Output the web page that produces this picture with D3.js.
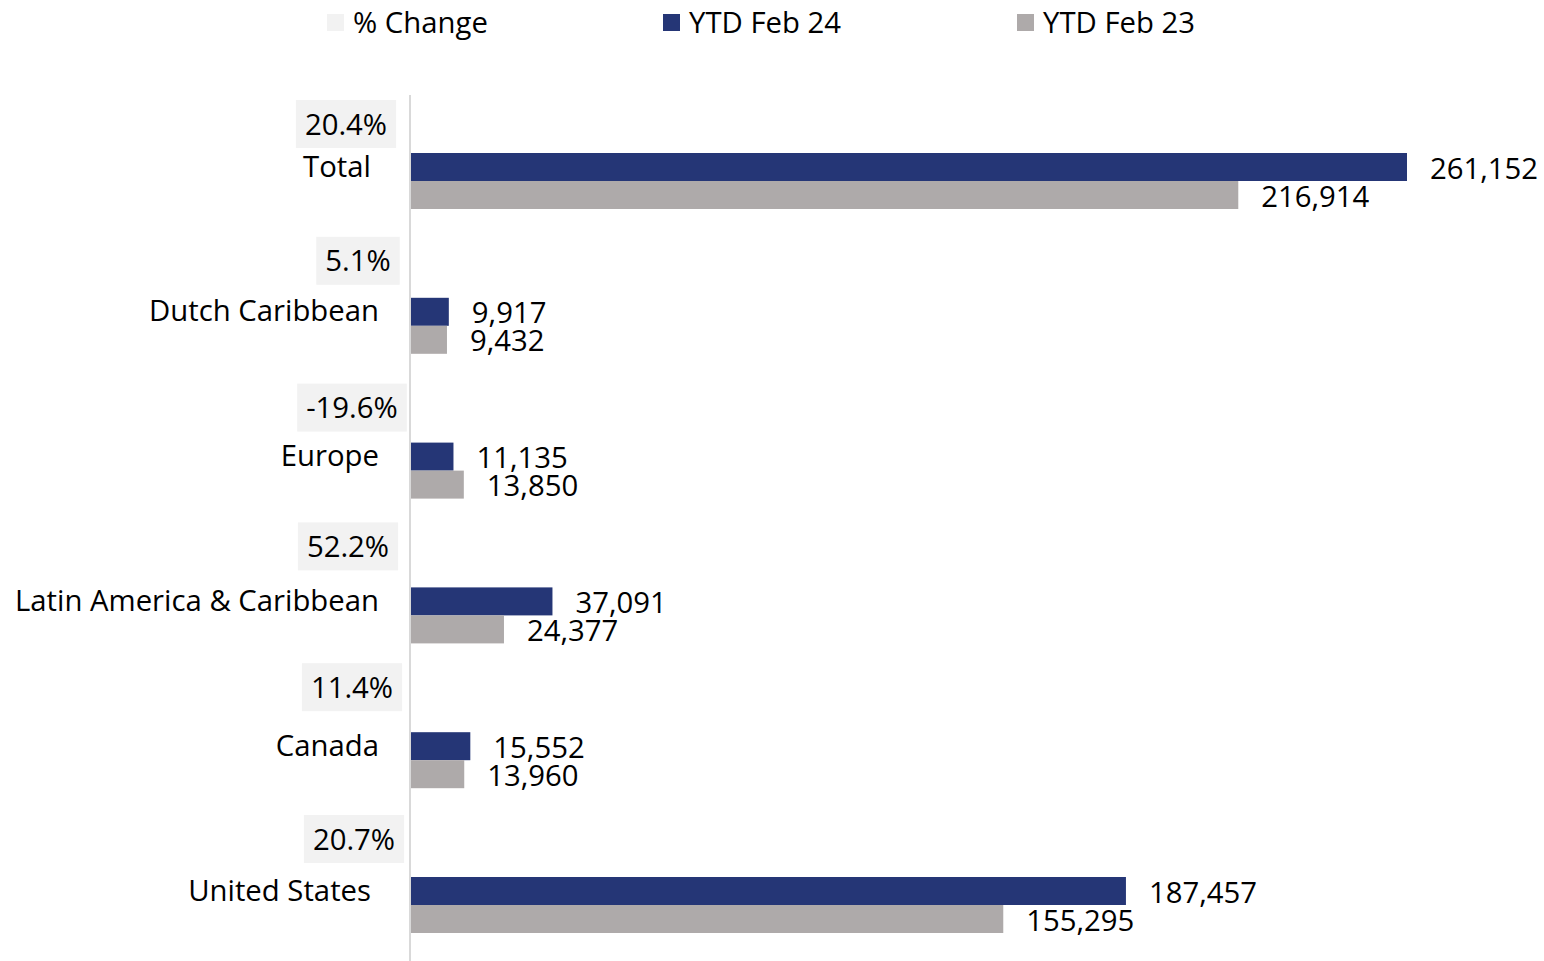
<!DOCTYPE html>
<html><head><meta charset="utf-8">
<script src="https://cdn.jsdelivr.net/npm/d3@7"></script>
<style>body{margin:0;background:#fff}svg{display:block;font-family:"Open Sans",sans-serif}</style>
</head><body>
<svg id="c" width="1544" height="961"></svg>
<script>
const categories = ["Total","Dutch Caribbean","Europe","Latin America & Caribbean","Canada","United States"];
const ytdFeb24 = [261152, 9917, 11135, 37091, 15552, 187457];
const ytdFeb23 = [216914, 9432, 13850, 24377, 13960, 155295];
const pctChange = ["20.4%","5.1%","-19.6%","52.2%","11.4%","20.7%"];
const seriesNames = ["% Change","YTD Feb 24","YTD Feb 23"];
const colors = ["#F2F2F2","#253676","#AEAAAA"];

// label layout tweaks (not data)
const boxDy = [-57, -65, -63, -69, -73, -66];
const boxCx = [346, 358, 352, 348, 352, 354];
const labelRight = [371, 379, 379, 379, 379, 371];

const svg = d3.select("#c");
const fs = 29.3;
const x = d3.scaleLinear().domain([0, 261152]).range([411, 1407]);
const y = d3.scaleBand().domain(categories).range([108.6, 977.4]).paddingInner(0).paddingOuter(0);
const bh = 28;

svg.append("line").attr("x1",410).attr("x2",410).attr("y1",95).attr("y2",961)
  .attr("stroke","#D9D9D9").attr("stroke-width",2);

categories.forEach((c,i)=>{
  const cy = y(c) + y.bandwidth()/2;
  svg.append("rect").attr("x",x(0)).attr("y",cy-bh).attr("width",x(ytdFeb24[i])-x(0)).attr("height",bh).attr("fill",colors[1]);
  svg.append("rect").attr("x",x(0)).attr("y",cy).attr("width",x(ytdFeb23[i])-x(0)).attr("height",bh).attr("fill",colors[2]);
  svg.append("text").attr("x",x(ytdFeb24[i])+23).attr("y",cy-bh/2+1).attr("dy","0.36em")
    .attr("font-size",fs).attr("fill","#000").text(d3.format(",")(ytdFeb24[i]));
  svg.append("text").attr("x",x(ytdFeb23[i])+23).attr("y",cy+bh/2+1).attr("dy","0.36em")
    .attr("font-size",fs).attr("fill","#000").text(d3.format(",")(ytdFeb23[i]));
  svg.append("text").attr("x",labelRight[i]).attr("y",cy-15).attr("dy","0.36em").attr("text-anchor","end")
    .attr("font-size",fs).attr("fill","#000").text(c);
  const g = svg.append("g");
  const t = g.append("text").attr("x",boxCx[i]).attr("y",cy+boxDy[i]).attr("dy","0.36em").attr("text-anchor","middle")
    .attr("font-size",fs).attr("fill","#000").text(pctChange[i]);
  const bb = t.node().getBBox();
  g.insert("rect","text").attr("x",bb.x-9).attr("y",cy+boxDy[i]-24).attr("width",bb.width+18).attr("height",48).attr("fill",colors[0]);
});

const legX = [327, 663, 1017];
seriesNames.forEach((s,i)=>{
  svg.append("rect").attr("x",legX[i]).attr("y",14).attr("width",17).attr("height",17).attr("fill",colors[i]);
  svg.append("text").attr("x",legX[i]+26).attr("y",22).attr("dy","0.36em").attr("font-size",fs).attr("fill","#000").text(s);
});
</script>
</body></html>
